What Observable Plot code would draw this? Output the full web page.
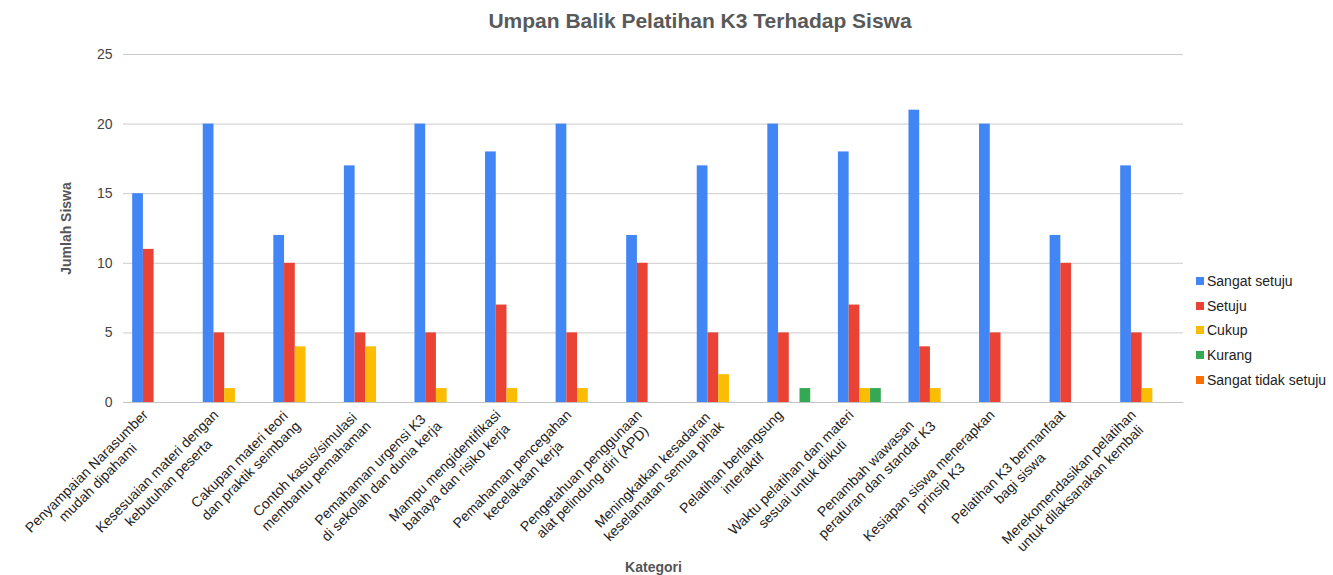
<!DOCTYPE html>
<html><head><meta charset="utf-8">
<script src="https://cdn.jsdelivr.net/npm/d3@7"></script>
<script src="https://cdn.jsdelivr.net/npm/@observablehq/plot@0.6"></script>
<style>
body{margin:0;background:#fff;font-family:"Liberation Sans",Arial,sans-serif;}
#wrap{position:relative;width:1333px;height:575px;overflow:hidden;}
#title{position:absolute;left:67px;top:0;width:1266px;height:40px;line-height:42px;text-align:center;font-size:21px;font-weight:bold;color:#595959;}
#chart{position:absolute;left:0;top:40px;}
#legend{position:absolute;left:1196px;top:269px;font-size:14px;color:#222;}
#legend .row{height:24.6px;display:flex;align-items:center;white-space:nowrap;}
#legend .sw{width:8px;height:8px;margin-right:3px;flex:none;}
</style></head><body>
<div id="wrap">
<div id="title">Umpan Balik Pelatihan K3 Terhadap Siswa</div>
<div id="chart"></div>
<div id="legend"></div>
</div>
<script>
const categories = [
  "Penyampaian Narasumber\nmudah dipahami",
  "Kesesuaian materi dengan\nkebutuhan peserta",
  "Cakupan materi teori\ndan praktik seimbang",
  "Contoh kasus/simulasi\nmembantu pemahaman",
  "Pemahaman urgensi K3\ndi sekolah dan dunia kerja",
  "Mampu mengidentifikasi\nbahaya dan risiko kerja",
  "Pemahaman pencegahan\nkecelakaan kerja",
  "Pengetahuan penggunaan\nalat pelindung diri (APD)",
  "Meningkatkan kesadaran\nkeselamatan semua pihak",
  "Pelatihan berlangsung\ninteraktif",
  "Waktu pelatihan dan materi\nsesuai untuk diikuti",
  "Penambah wawasan\nperaturan dan standar K3",
  "Kesiapan siswa menerapkan\nprinsip K3",
  "Pelatihan K3 bermanfaat\nbagi siswa",
  "Merekomendasikan pelatihan\nuntuk dilaksanakan kembali"
];
const sangatSetuju      = [15, 20, 12, 17, 20, 18, 20, 12, 17, 20, 18, 21, 20, 12, 17];
const setuju            = [11,  5, 10,  5,  5,  7,  5, 10,  5,  5,  7,  4,  5, 10,  5];
const cukup             = [ 0,  1,  4,  4,  1,  1,  1,  0,  2,  0,  1,  1,  0,  0,  1];
const kurang            = [ 0,  0,  0,  0,  0,  0,  0,  0,  0,  1,  1,  0,  0,  0,  0];
const sangatTidakSetuju = [ 0,  0,  0,  0,  0,  0,  0,  0,  0,  0,  0,  0,  0,  0,  0];
const seriesNames  = ["Sangat setuju", "Setuju", "Cukup", "Kurang", "Sangat tidak setuju"];
const seriesColors = ["#4285f4", "#ea4335", "#fbbc04", "#34a853", "#ff6d01"];
const yTicks = [0, 5, 10, 15, 20, 25];

const seriesValues = [sangatSetuju, setuju, cukup, kurang, sangatTidakSetuju];
const rows = [];
categories.forEach((c, j) => seriesNames.forEach((s, i) => rows.push({kategori: c, seri: s, nilai: seriesValues[i][j]})));

const W = 1333, H = 535, mL = 123, mR = 150, mT = 14, mB = 173;
const pIn = 0.24, pOut = 0.13;
const step = (W - mL - mR) / (categories.length - pIn + 2 * pOut);
const barW = step * (1 - pIn) / seriesNames.length;

const chart = Plot.plot({
  width: W, height: H,
  marginLeft: mL, marginRight: mR, marginTop: mT, marginBottom: mB,
  style: {fontFamily: '"Liberation Sans", Arial, sans-serif', fontSize: "14px", color: "#444", background: "#fff"},
  x: {domain: categories, paddingInner: pIn, paddingOuter: pOut, round: false},
  y: {domain: [0, 25]},
  color: {domain: seriesNames, range: seriesColors},
  marks: [
    Plot.gridY(yTicks.slice(1), {stroke: "#cccccc", strokeOpacity: 1}),
    Plot.ruleY([0], {stroke: "#c4c4c4"}),
    ...seriesNames.map((s, i) => Plot.barY(rows.filter(r => r.seri === s && r.nilai > 0), {
      x: "kategori", y: "nilai", fill: "seri",
      insetLeft: i * barW, insetRight: (seriesNames.length - 1 - i) * barW
    })),
    Plot.axisY({ticks: yTicks, tickSize: 0, tickPadding: 11, fontSize: 14, fill: "#444",
      label: "Jumlah Siswa", labelAnchor: "center", labelArrow: "none", labelOffset: 62}),
    Plot.axisX({tickSize: 0, tickPadding: 3, tickRotate: -45, fontSize: 14, fill: "#222",
      dx: -9, dy: 12,
      label: "Kategori", labelAnchor: "center", labelArrow: "none", labelOffset: 169})
  ]
});
document.getElementById("chart").appendChild(chart);

// label styling
chart.querySelectorAll('[aria-label="x-axis label"] text, [aria-label="y-axis label"] text').forEach(t => {
  t.setAttribute("font-weight", "bold");
  t.setAttribute("font-size", "14");
  t.setAttribute("fill", "#555");
});
// wrapped tick labels: wider line spacing, lines centred on each other
chart.querySelectorAll('[aria-label="x-axis tick label"] text').forEach(t => {
  const spans = Array.from(t.querySelectorAll("tspan"));
  if (spans.length < 2) return;
  const lens = spans.map(s => s.getComputedTextLength());
  const mx = Math.max(...lens);
  spans.forEach((s, k) => {
    s.setAttribute("x", -(mx - lens[k]) / 2);
    if (k > 0) s.setAttribute("dy", "1.15em");
  });
});

const legend = document.getElementById("legend");
seriesNames.forEach((s, i) => {
  const row = document.createElement("div");
  row.className = "row";
  row.innerHTML = `<span class="sw" style="background:${seriesColors[i]}"></span><span>${s}</span>`;
  legend.appendChild(row);
});
</script>
</body></html>
